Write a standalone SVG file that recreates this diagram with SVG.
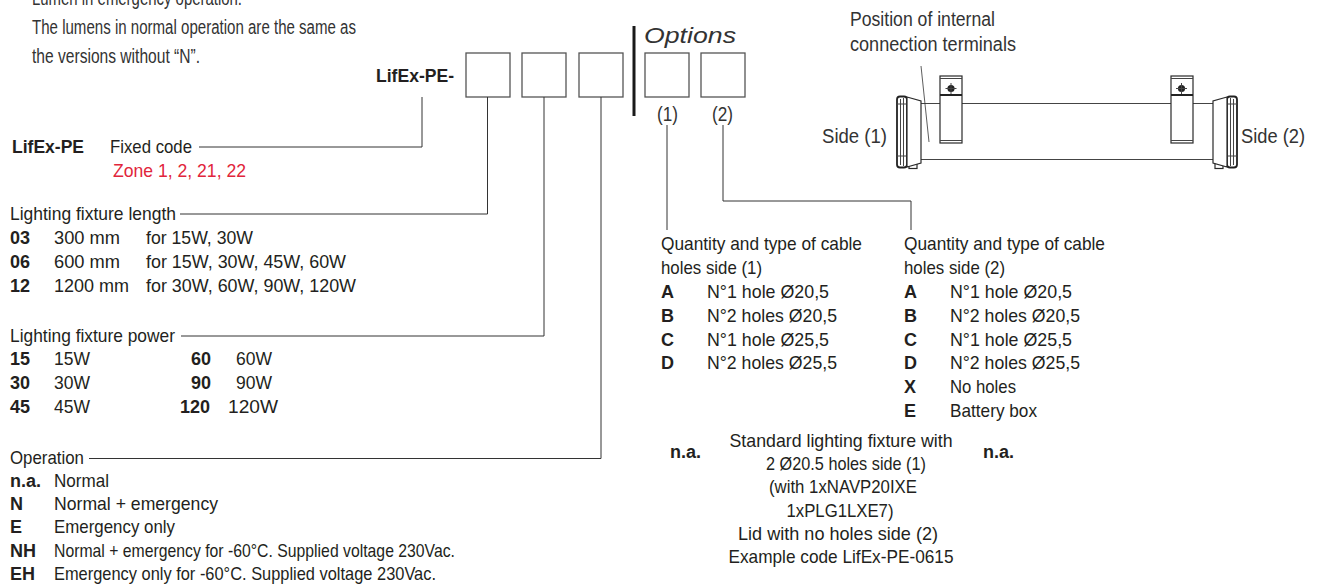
<svg xmlns="http://www.w3.org/2000/svg" width="1320" height="584" viewBox="0 0 1320 584">
<style>
text{font-family:"Liberation Sans Narrow","Liberation Sans",Arial,sans-serif;fill:#231f20}
.t{font-size:19px}
.b{font-size:18px;font-weight:bold}
.bb{font-size:19px;font-weight:bold}
.n{font-size:20px;fill:#333}
.red{fill:#e1253b}
.it{font-size:22px;font-style:italic;fill:#333;font-family:"Liberation Sans",Arial,sans-serif}
.c{text-anchor:middle}
.box{fill:#fff;stroke:#555;stroke-width:1.3}
.con{fill:none;stroke:#333;stroke-width:1}
.dr{stroke:#2a2a2a;stroke-width:1.2;fill:#fff}
.ln{stroke:#444;stroke-width:1;fill:none}
</style>

<g id="notes">
<text class="n" x="32" y="4.7" textLength="210" lengthAdjust="spacingAndGlyphs">Lumen in emergency operation.</text>
<text class="n" x="32" y="34" textLength="324" lengthAdjust="spacingAndGlyphs">The lumens in normal operation are the same as</text>
<text class="n" x="32" y="63.3" textLength="168" lengthAdjust="spacingAndGlyphs">the versions without “N”.</text>
</g>

<g id="code-header">
<text class="bb" x="376" y="82" textLength="78" lengthAdjust="spacingAndGlyphs">LifEx-PE-</text>
<rect class="box" x="466" y="53" width="44" height="44"/>
<rect class="box" x="522" y="53" width="44" height="44"/>
<rect class="box" x="579" y="53" width="44" height="44"/>
<rect x="632.5" y="26" width="3" height="90" fill="#1a1a1a"/>
<text class="it" x="644" y="43" textLength="92" lengthAdjust="spacingAndGlyphs">Options</text>
<rect class="box" x="645" y="53" width="44" height="44"/>
<rect class="box" x="701" y="53" width="44" height="44"/>
<text class="n" x="657" y="121" textLength="21" lengthAdjust="spacingAndGlyphs">(1)</text>
<text class="n" x="712" y="121" textLength="21" lengthAdjust="spacingAndGlyphs">(2)</text>
</g>

<g id="connectors">
<path class="con" d="M422 97 V147 H199"/>
<path class="con" d="M487.5 97 V214 H180"/>
<path class="con" d="M544 97 V336 H181"/>
<path class="con" d="M601 97 V458.5 H89"/>
<path class="con" d="M667 125 V230"/>
<path class="con" d="M723 125 V201 H911 V230"/>
</g>

<g id="fixed-code">
<text class="bb" x="12" y="153" textLength="72" lengthAdjust="spacingAndGlyphs">LifEx-PE</text>
<text class="t" x="110" y="153" textLength="82" lengthAdjust="spacingAndGlyphs">Fixed code</text>
<text class="t red" x="113" y="177" textLength="133" lengthAdjust="spacingAndGlyphs">Zone 1, 2, 21, 22</text>
</g>

<g id="length">
<text class="t" x="10" y="220" textLength="166" lengthAdjust="spacingAndGlyphs">Lighting fixture length</text>
<text class="b" x="10" y="244">03</text>
<text class="t" x="54" y="244" textLength="66" lengthAdjust="spacingAndGlyphs">300 mm</text>
<text class="t" x="146" y="244" textLength="107" lengthAdjust="spacingAndGlyphs">for 15W, 30W</text>
<text class="b" x="10" y="268">06</text>
<text class="t" x="54" y="268" textLength="66" lengthAdjust="spacingAndGlyphs">600 mm</text>
<text class="t" x="146" y="268" textLength="200" lengthAdjust="spacingAndGlyphs">for 15W, 30W, 45W, 60W</text>
<text class="b" x="10" y="291.5">12</text>
<text class="t" x="54" y="291.5" textLength="75" lengthAdjust="spacingAndGlyphs">1200 mm</text>
<text class="t" x="146" y="291.5" textLength="210" lengthAdjust="spacingAndGlyphs">for 30W, 60W, 90W, 120W</text>
</g>

<g id="power">
<text class="t" x="10" y="342" textLength="165" lengthAdjust="spacingAndGlyphs">Lighting fixture power</text>
<text class="b" x="10" y="365">15</text>
<text class="t" x="54" y="365" textLength="36" lengthAdjust="spacingAndGlyphs">15W</text>
<text class="b" x="191" y="365">60</text>
<text class="t" x="236" y="365" textLength="36" lengthAdjust="spacingAndGlyphs">60W</text>
<text class="b" x="10" y="389">30</text>
<text class="t" x="54" y="389" textLength="36" lengthAdjust="spacingAndGlyphs">30W</text>
<text class="b" x="191" y="389">90</text>
<text class="t" x="236" y="389" textLength="36" lengthAdjust="spacingAndGlyphs">90W</text>
<text class="b" x="10" y="412.5">45</text>
<text class="t" x="54" y="412.5" textLength="36" lengthAdjust="spacingAndGlyphs">45W</text>
<text class="b" x="180" y="412.5">120</text>
<text class="t" x="228" y="412.5" textLength="50" lengthAdjust="spacingAndGlyphs">120W</text>
</g>

<g id="operation">
<text class="t" x="10" y="463.5" textLength="74" lengthAdjust="spacingAndGlyphs">Operation</text>
<text class="b" x="10" y="486.8">n.a.</text>
<text class="t" x="54" y="486.8" textLength="55" lengthAdjust="spacingAndGlyphs">Normal</text>
<text class="b" x="10" y="510.1">N</text>
<text class="t" x="54" y="510.1" textLength="164" lengthAdjust="spacingAndGlyphs">Normal + emergency</text>
<text class="b" x="10" y="533.4">E</text>
<text class="t" x="54" y="533.4" textLength="121" lengthAdjust="spacingAndGlyphs">Emergency only</text>
<text class="b" x="10" y="556.7">NH</text>
<text class="t" x="54" y="556.7" textLength="401" lengthAdjust="spacingAndGlyphs">Normal + emergency for -60°C. Supplied voltage 230Vac.</text>
<text class="b" x="10" y="580">EH</text>
<text class="t" x="54" y="580" textLength="382" lengthAdjust="spacingAndGlyphs">Emergency only for -60°C. Supplied voltage 230Vac.</text>
</g>

<g id="side1-holes">
<text class="t" x="661" y="250" textLength="201" lengthAdjust="spacingAndGlyphs">Quantity and type of cable</text>
<text class="t" x="661" y="274" textLength="101" lengthAdjust="spacingAndGlyphs">holes side (1)</text>
<text class="b" x="661" y="298">A</text>
<text class="t" x="707" y="298" textLength="122" lengthAdjust="spacingAndGlyphs">N°1 hole Ø20,5</text>
<text class="b" x="661" y="322">B</text>
<text class="t" x="707" y="322" textLength="130" lengthAdjust="spacingAndGlyphs">N°2 holes Ø20,5</text>
<text class="b" x="661" y="345.7">C</text>
<text class="t" x="707" y="345.7" textLength="122" lengthAdjust="spacingAndGlyphs">N°1 hole Ø25,5</text>
<text class="b" x="661" y="369.3">D</text>
<text class="t" x="707" y="369.3" textLength="130" lengthAdjust="spacingAndGlyphs">N°2 holes Ø25,5</text>
</g>

<g id="side2-holes">
<text class="t" x="904" y="250" textLength="201" lengthAdjust="spacingAndGlyphs">Quantity and type of cable</text>
<text class="t" x="904" y="274" textLength="101" lengthAdjust="spacingAndGlyphs">holes side (2)</text>
<text class="b" x="904" y="298">A</text>
<text class="t" x="950" y="298" textLength="122" lengthAdjust="spacingAndGlyphs">N°1 hole Ø20,5</text>
<text class="b" x="904" y="322">B</text>
<text class="t" x="950" y="322" textLength="130" lengthAdjust="spacingAndGlyphs">N°2 holes Ø20,5</text>
<text class="b" x="904" y="345.7">C</text>
<text class="t" x="950" y="345.7" textLength="122" lengthAdjust="spacingAndGlyphs">N°1 hole Ø25,5</text>
<text class="b" x="904" y="369.3">D</text>
<text class="t" x="950" y="369.3" textLength="130" lengthAdjust="spacingAndGlyphs">N°2 holes Ø25,5</text>
<text class="b" x="904" y="393">X</text>
<text class="t" x="950" y="393" textLength="66" lengthAdjust="spacingAndGlyphs">No holes</text>
<text class="b" x="904" y="416.7">E</text>
<text class="t" x="950" y="416.7" textLength="87" lengthAdjust="spacingAndGlyphs">Battery box</text>
</g>

<g id="standard-note">
<text class="b" x="670" y="458">n.a.</text>
<text class="b" x="983" y="458">n.a.</text>
<text class="t c" x="841" y="446.7" textLength="223" lengthAdjust="spacingAndGlyphs">Standard lighting fixture with</text>
<text class="t c" x="846" y="470" textLength="160" lengthAdjust="spacingAndGlyphs">2 Ø20.5 holes side (1)</text>
<text class="t c" x="843" y="493.3" textLength="148" lengthAdjust="spacingAndGlyphs">(with 1xNAVP20IXE</text>
<text class="t c" x="840" y="516.7" textLength="107" lengthAdjust="spacingAndGlyphs">1xPLG1LXE7)</text>
<text class="t c" x="838" y="540" textLength="200" lengthAdjust="spacingAndGlyphs">Lid with no holes side (2)</text>
<text class="t c" x="841" y="563.3" textLength="225" lengthAdjust="spacingAndGlyphs">Example code LifEx-PE-0615</text>
</g>

<g id="fixture">
<text class="n" x="850" y="26" textLength="145" lengthAdjust="spacingAndGlyphs">Position of internal</text>
<text class="n" x="850" y="51" textLength="166" lengthAdjust="spacingAndGlyphs">connection terminals</text>
<text class="n" x="822" y="143" textLength="65" lengthAdjust="spacingAndGlyphs">Side (1)</text>
<text class="n" x="1241" y="143" textLength="64" lengthAdjust="spacingAndGlyphs">Side (2)</text>
<!-- tube -->
<line class="ln" x1="921" y1="103.5" x2="1213" y2="103.5"/>
<line class="ln" x1="921" y1="159.5" x2="1213" y2="159.5"/>
<!-- left end cap -->
<rect class="dr" x="909" y="162" width="8" height="6.5"/>
<rect x="897" y="96.5" width="10" height="71" rx="3" fill="#fff" stroke="#222" stroke-width="1.8"/>
<line class="ln" x1="900.5" y1="99" x2="900.5" y2="165" stroke="#333"/>
<line class="ln" x1="903.5" y1="98" x2="903.5" y2="166"/>
<line class="ln" x1="897" y1="104" x2="907" y2="104"/>
<line class="ln" x1="897" y1="156" x2="907" y2="156"/>
<polygon class="dr" points="907,97 921,101 921,163 907,167"/>
<!-- right end cap -->
<rect class="dr" x="1215" y="162" width="8" height="6.5"/>
<rect x="1227" y="96.5" width="10" height="71" rx="3" fill="#fff" stroke="#222" stroke-width="1.8"/>
<line class="ln" x1="1230.5" y1="98" x2="1230.5" y2="166"/>
<line class="ln" x1="1233.5" y1="99" x2="1233.5" y2="165"/>
<line class="ln" x1="1227" y1="104" x2="1237" y2="104"/>
<line class="ln" x1="1227" y1="156" x2="1237" y2="156"/>
<polygon class="dr" points="1227,97 1213,101 1213,163 1227,167"/>
<!-- left clamp -->
<rect class="dr" x="940" y="76" width="22" height="67"/>
<line class="ln" x1="940" y1="78.5" x2="962" y2="78.5"/>
<line x1="940" y1="95" x2="962" y2="95" stroke="#222" stroke-width="2"/>
<line class="ln" x1="940" y1="140.5" x2="962" y2="140.5"/>
<circle cx="951" cy="88.5" r="3.6" fill="#222"/>
<path class="ln" d="M951 83 V94 M945.5 88.5 H956.5" stroke-width="0.8"/>
<!-- right clamp -->
<rect class="dr" x="1171" y="76" width="22" height="67"/>
<line class="ln" x1="1171" y1="78.5" x2="1193" y2="78.5"/>
<line x1="1171" y1="95" x2="1193" y2="95" stroke="#222" stroke-width="2"/>
<line class="ln" x1="1171" y1="140.5" x2="1193" y2="140.5"/>
<circle cx="1181.5" cy="88.5" r="3.6" fill="#222"/>
<path class="ln" d="M1181.5 83 V94 M1176 88.5 H1187" stroke-width="0.8"/>
<!-- leader -->
<line x1="921" y1="66" x2="929" y2="142" stroke="#333" stroke-width="0.8"/>
</g>
</svg>
